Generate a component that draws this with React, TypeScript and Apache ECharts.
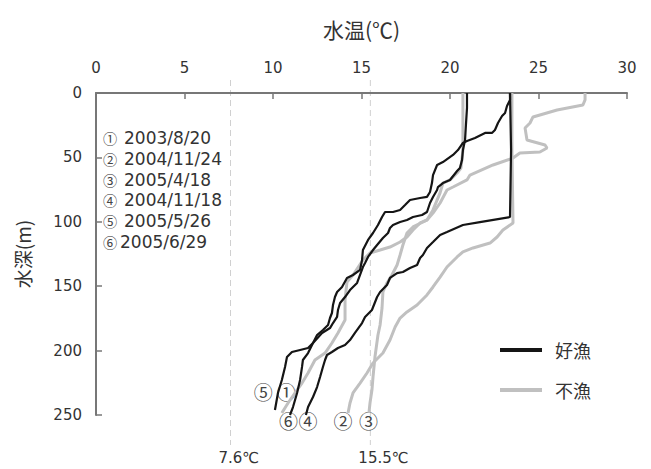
import React, { useEffect, useRef } from "react";
import * as echarts from "echarts";

// Temperature ticks (top axis) and depth ticks (left axis)
const tempTicks = [0, 5, 10, 15, 20, 25, 30];
const depthTicks = [0, 50, 100, 150, 200, 250];
const refTemps = [7.6, 15.5];

// Profile ① 2003/8/20 (不漁)
const p1Temp = [20.73, 20.73, 20.62, 20.4, 20.0, 19.6, 19.44, 19.04, 18.7, 18.31, 17.91, 17.57, 17.18, 16.61, 16.05, 15.48, 15.08, 14.52, 14.18, 14.07, 14.07, 13.67, 13.33, 12.94, 12.37, 11.98, 11.64, 11.24, 10.85, 10.5];
const p1Depth = [0, 44.3, 58.2, 62.1, 67.5, 69.9, 77.6, 90.8, 98.6, 100.9, 106.4, 111.8, 115.7, 119.6, 121.9, 124.2, 129.7, 141.3, 146.7, 160.7, 176.2, 186.3, 194.1, 201.9, 207.3, 217.4, 225.2, 232.9, 240.7, 248.4];

// Profile ② 2004/11/24 (不漁)
const p2Temp = [23.5, 23.5, 23.56, 22.99, 22.66, 22.26, 21.3, 20.73, 20.4, 19.83, 19.44, 19.04, 18.7, 18.14, 17.57, 17.18, 16.9, 16.61, 16.21, 15.65, 15.31, 14.92, 14.52, 14.35, 14.24];
const p2Depth = [0, 44.3, 100.9, 106.4, 111.8, 116.5, 120.3, 123.4, 127.3, 135.1, 142.9, 150.6, 156.8, 164.6, 170.0, 174.7, 181.7, 191.8, 201.9, 209.6, 217.4, 225.2, 232.9, 240.7, 248.4];

// Profile ③ 2005/4/18 (不漁)
const p3Temp = [27.63, 27.63, 27.51, 26.05, 24.69, 24.52, 24.24, 24.35, 25.37, 25.48, 25.08, 23.95, 23.56, 22.43, 21.13, 20.96, 20.17, 19.83, 19.44, 19.04, 18.7, 17.91, 17.57, 17.34, 17.18, 17.01, 16.72, 16.44, 16.21, 16.16, 16.05, 15.93, 15.76, 15.65, 15.59, 15.48, 15.42];
const p3Depth = [0, 5.4, 9.3, 13.2, 18.6, 23.3, 27.2, 36.5, 40.4, 42.7, 45.8, 46.6, 50.5, 55.9, 63.7, 67.5, 73.0, 75.3, 85.4, 93.2, 98.6, 104.0, 108.7, 118.0, 125.8, 133.5, 141.3, 147.5, 154.5, 166.9, 180.1, 187.9, 205.0, 220.5, 230.6, 240.7, 248.4];

// Profile ④ 2004/11/18 (好漁)
const p4Temp = [23.39, 23.45, 23.39, 21.69, 20.73, 19.83, 19.44, 19.04, 18.7, 18.47, 18.31, 18.14, 17.74, 17.34, 17.01, 16.61, 16.44, 16.05, 15.88, 15.59, 15.2, 15.03, 14.63, 14.35, 14.07, 13.67, 13.33, 13.05, 12.94, 12.82, 12.66, 12.49, 12.26, 11.98, 11.86];
const p4Depth = [0, 44.3, 96.3, 100.2, 102.5, 107.9, 110.2, 115.7, 120.3, 125.8, 128.1, 133.5, 135.9, 139.0, 139.8, 143.6, 149.1, 154.5, 158.4, 168.5, 173.9, 178.6, 186.3, 191.8, 195.7, 198.0, 201.1, 203.4, 207.3, 212.7, 220.5, 228.3, 236.0, 243.8, 250.0];

// Profile ⑤ 2005/5/26 (好漁)
const p5Temp = [20.96, 20.96, 20.9, 20.85, 20.73, 20.68, 20.56, 20.4, 20.0, 19.6, 19.32, 19.27, 19.04, 18.87, 18.7, 18.42, 17.91, 17.57, 17.18, 16.78, 16.61, 16.5, 16.21, 15.88, 15.65, 15.37, 15.2, 15.08, 14.75, 14.35, 14.07, 13.79, 13.67, 13.62, 13.39, 13.22, 12.77, 12.26, 11.98, 11.53, 11.07, 10.79, 10.68, 10.5, 10.28, 10.11];
const p5Depth = [0, 11.6, 24.8, 36.5, 44.3, 52.0, 58.2, 60.6, 67.5, 69.9, 73.0, 75.3, 80.7, 85.4, 92.4, 94.7, 96.3, 98.6, 100.2, 102.5, 104.8, 108.7, 112.6, 118.0, 121.9, 127.3, 132.0, 135.1, 147.5, 153.0, 158.4, 163.0, 168.5, 173.9, 178.6, 182.5, 186.3, 194.1, 198.0, 199.5, 201.1, 205.0, 212.7, 222.8, 232.9, 246.1];

// Profile ⑥ 2005/6/29 (好漁)
const p6Temp = [23.39, 23.39, 23.22, 23.11, 22.94, 22.71, 22.54, 22.37, 21.98, 21.41, 20.96, 20.73, 20.45, 20.17, 19.6, 19.27, 19.04, 18.98, 18.87, 18.7, 18.31, 17.74, 17.46, 17.18, 16.78, 16.33, 16.16, 15.93, 15.65, 15.37, 15.08, 15.03, 14.92, 14.52, 14.18, 13.9, 13.62, 13.5, 13.39, 13.33, 13.22, 13.11, 12.82, 12.49, 12.26, 11.98, 11.69, 11.64, 11.53, 11.36, 11.13, 10.96];
const p6Depth = [0, 5.4, 10.1, 15.5, 17.9, 23.3, 28.7, 31.0, 31.0, 34.9, 37.3, 38.8, 44.3, 48.1, 53.6, 55.9, 63.7, 69.9, 76.9, 80.7, 81.5, 83.1, 87.0, 90.8, 92.4, 92.4, 96.3, 102.5, 108.7, 114.1, 121.9, 129.7, 137.4, 141.3, 143.6, 150.6, 154.5, 158.4, 164.6, 170.8, 174.7, 180.1, 184.0, 187.9, 194.1, 201.9, 207.3, 212.7, 222.8, 232.9, 243.8, 250.0];

const profileNames = ["①", "②", "③", "④", "⑤", "⑥"];
const profileDates = ["2003/8/20", "2004/11/24", "2005/4/18", "2004/11/18", "2005/5/26", "2005/6/29"];
const profileGood = [false, false, false, true, true, true];
const profileTemps = [p1Temp, p2Temp, p3Temp, p4Temp, p5Temp, p6Temp];
const profileDepths = [p1Depth, p2Depth, p3Depth, p4Depth, p5Depth, p6Depth];

// End label anchors (temperature, depth) for the circled numbers
const endLabelTemp = [10.75, 13.95, 15.4, 11.98, 9.45, 10.88];
const endLabelDepth = [232, 254, 254, 254, 232, 254];

const legendNames = ["好漁", "不漁"];

const FONT = "'Noto Sans CJK JP', 'Noto Sans', sans-serif";
const NUMFONT = "'DejaVu Sans', 'Noto Sans CJK JP', sans-serif";
const BLACK = "#151515";
const GRAY = "#c0c0c0";

export default function App() {
  const ref = useRef<HTMLDivElement>(null);
  useEffect(() => {
    if (!ref.current) return;
    const chart = echarts.init(ref.current, null, { renderer: "svg" });
    const series: any[] = profileTemps.map((temps, i) => ({
      type: "line",
      name: profileNames[i],
      data: temps.map((t, k) => [t, profileDepths[i][k]]),
      showSymbol: false,
      symbol: "none",
      z: profileGood[i] ? 4 : 2,
      lineStyle: {
        color: profileGood[i] ? BLACK : GRAY,
        width: profileGood[i] ? 2.2 : 3,
      },
    }));
    chart.setOption({
      animation: false,
      backgroundColor: "#ffffff",
      textStyle: { fontFamily: FONT },
      grid: { left: 96, top: 93, right: 24, bottom: 54 },
      xAxis: {
        type: "value",
        position: "top",
        min: 0,
        max: 30,
        interval: 5,
        name: "水温(℃)",
        nameLocation: "middle",
        nameGap: 54,
        nameTextStyle: { fontSize: 21, color: "#333", fontFamily: FONT },
        axisLine: { show: true, lineStyle: { color: "#777", width: 2 } },
        axisTick: { show: true, inside: true, length: 6, lineStyle: { color: "#777", width: 1.5 } },
        axisLabel: {
          fontSize: 15,
          color: "#333",
          margin: 18,
          fontFamily: NUMFONT,
          formatter: (v: number) => (tempTicks.includes(v) ? String(v) : ""),
        },
        splitLine: { show: false },
      },
      yAxis: {
        type: "value",
        inverse: true,
        min: 0,
        max: 250,
        interval: 50,
        name: "水深(m)",
        nameLocation: "middle",
        nameGap: 64,
        nameRotate: 90,
        nameTextStyle: { fontSize: 19, color: "#333", fontFamily: FONT },
        axisLine: { show: true, lineStyle: { color: "#777", width: 2 } },
        axisTick: { show: true, inside: true, length: 6, lineStyle: { color: "#777", width: 1.5 } },
        axisLabel: {
          fontSize: 15,
          color: "#333",
          margin: 14,
          fontFamily: NUMFONT,
          formatter: (v: number) => (depthTicks.includes(v) ? String(v) : ""),
        },
        splitLine: { show: false },
      },
      series,
    });

    const px = (t: number, d: number) =>
      chart.convertToPixel({ xAxisIndex: 0, yAxisIndex: 0 }, [t, d]) as number[];

    const graphic: any[] = [];
    refTemps.forEach((t) => {
      const top = px(t, 0);
      const bot = px(t, 250);
      graphic.push({
        type: "line",
        z: 0,
        shape: { x1: top[0], y1: top[1] - 13, x2: bot[0], y2: bot[1] + 30 },
        style: { stroke: "#d0d0d0", lineWidth: 1, lineDash: [6, 4] },
      });
      graphic.push({
        type: "text",
        x: bot[0] - 12,
        y: bot[1] + 43,
        style: {
          text: `${t}℃`,
          fontSize: 15,
          fill: "#333",
          fontFamily: NUMFONT,
          align: "left",
          verticalAlign: "middle",
        },
      });
    });

    // list of dates
    profileNames.forEach((n, i) => {
      const y = 138 + i * 20.8;
      graphic.push({
        type: "text",
        x: 110,
        y,
        style: {
          text: n,
          fontSize: 14.2,
          fill: "#444",
          fontFamily: FONT,
          align: "center",
          verticalAlign: "middle",
        },
      });
      graphic.push({
        type: "text",
        x: i === 5 ? 120 : 124,
        y,
        style: {
          text: profileDates[i],
          fontSize: 17,
          fill: "#333",
          fontFamily: NUMFONT,
          align: "left",
          verticalAlign: "middle",
        },
      });
    });

    // circled numbers near the bottom of each profile
    profileNames.forEach((n, i) => {
      const p = px(endLabelTemp[i], endLabelDepth[i]);
      graphic.push({
        type: "text",
        x: p[0],
        y: p[1],
        style: {
          text: n,
          fontSize: 19,
          fill: "#444",
          fontFamily: FONT,
          align: "center",
          verticalAlign: "middle",
        },
      });
    });

    // legend
    legendNames.forEach((name, i) => {
      const y = 350 + i * 40;
      graphic.push({
        type: "line",
        shape: { x1: 500, y1: y, x2: 542, y2: y },
        style: { stroke: i === 0 ? BLACK : GRAY, lineWidth: 4 },
      });
      graphic.push({
        type: "text",
        x: 555,
        y,
        style: {
          text: name,
          fontSize: 18,
          fill: "#333",
          fontFamily: FONT,
          align: "left",
          verticalAlign: "middle",
        },
      });
    });

    chart.setOption({ graphic });
    return () => chart.dispose();
  }, []);
  return (
    <div
      ref={ref}
      style={{ position: "absolute", left: 0, top: 0, width: 651, height: 469, background: "#fff" }}
    />
  );
}
